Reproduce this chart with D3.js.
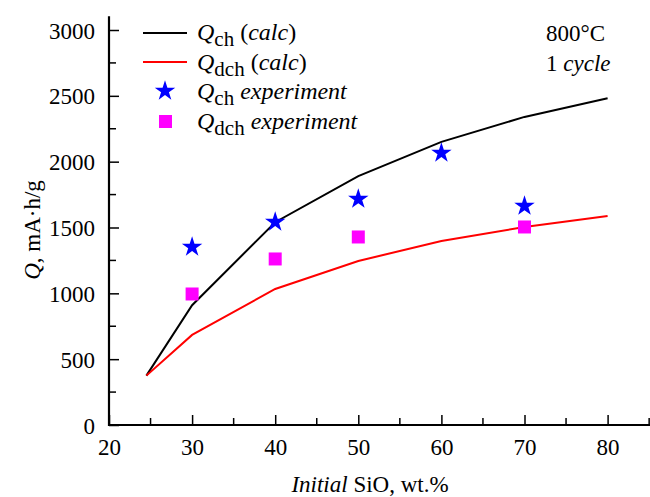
<!DOCTYPE html>
<html>
<head>
<meta charset="utf-8">
<script src="https://d3js.org/d3.v7.min.js"></script>
</head>
<body style="margin:0">
<svg id="chart" width="650" height="497"></svg>
<script>
// ---- data ----
var calcX = [24.5, 30, 40, 50, 60, 70, 80];
var qChCalc = [375, 910, 1540, 1890, 2150, 2340, 2482];
var qDchCalc = [375, 684, 1033, 1246, 1397, 1504, 1587];

var expChX = [30, 40, 50, 60, 70];
var qChExp = [1352, 1542, 1716, 2066, 1663];
var expDchX = [30, 40, 50, 70];
var qDchExp = [995, 1261, 1428, 1504];

var xTicks = [20, 30, 40, 50, 60, 70, 80];
var yTicks = [0, 500, 1000, 1500, 2000, 2500, 3000];

var FONT = "'Liberation Serif'";

// every text gets the serif face set on the element itself
function serif(sel, size) {
  return sel.attr("font-size", size).style("font-family", FONT);
}

// ---- layout ----
var svg = d3.select("#chart");
var left = 109, bottom = 425;

var x = d3.scaleLinear().domain([20, 85.5]).range([left, left + 65.5 * 8.31]);
var y = d3.scaleLinear().domain([0, 3000]).range([bottom, 30]);

// y axis (ticks point inward)
var yAxis = d3.axisLeft(y).tickValues(yTicks).tickSize(-10).tickPadding(14).tickFormat(d3.format("d"));
var gy = svg.append("g").attr("transform", "translate(" + left + ",0)").call(yAxis)
  .attr("font-family", null).attr("font-size", null);
gy.select(".domain").remove();
gy.selectAll(".tick line").attr("stroke-width", 1.5);
serif(gy.selectAll(".tick text"), 23).attr("dy", "0.35em");
// minor y ticks
gy.selectAll(".minor").data([250, 750, 1250, 1750, 2250, 2750]).enter().append("line")
  .attr("x1", 0).attr("x2", 7).attr("y1", function (d) { return y(d); }).attr("y2", function (d) { return y(d); })
  .attr("stroke", "#000").attr("stroke-width", 1.5);
svg.append("line").attr("x1", left).attr("x2", left).attr("y1", y(3105)).attr("y2", bottom + 1)
  .attr("stroke", "#000").attr("stroke-width", 2.2);

// x axis
var xAxis = d3.axisBottom(x).tickValues(xTicks).tickSize(-10).tickPadding(14).tickFormat(d3.format("d"));
var gx = svg.append("g").attr("transform", "translate(0," + bottom + ")").call(xAxis)
  .attr("font-family", null).attr("font-size", null);
gx.select(".domain").remove();
gx.selectAll(".tick line").attr("stroke-width", 1.5);
serif(gx.selectAll(".tick text"), 23);
gx.selectAll(".minor").data([25, 35, 45, 55, 65, 75, 85]).enter().append("line")
  .attr("x1", function (d) { return x(d); }).attr("x2", function (d) { return x(d); })
  .attr("y1", 0).attr("y2", -7).attr("stroke", "#000").attr("stroke-width", 1.5);
svg.append("line").attr("x1", left - 1).attr("x2", 650).attr("y1", bottom).attr("y2", bottom)
  .attr("stroke", "#000").attr("stroke-width", 2.2);

// axis titles
var xt = serif(svg.append("text"), 23).attr("x", 370).attr("y", 492).attr("text-anchor", "middle");
xt.append("tspan").attr("font-style", "italic").text("Initial");
xt.append("tspan").text(" SiO, wt.%");

var yt = serif(svg.append("text"), 23).attr("transform", "translate(40,230) rotate(-90)")
  .attr("text-anchor", "middle");
yt.append("tspan").attr("font-style", "italic").text("Q");
yt.append("tspan").text(", mA·h/g");

// calc lines
var line = d3.line().x(function (d) { return x(d[0]); }).y(function (d) { return y(d[1]); });
svg.append("path").datum(d3.zip(calcX, qChCalc)).attr("d", line)
  .attr("fill", "none").attr("stroke", "#000").attr("stroke-width", 2);
svg.append("path").datum(d3.zip(calcX, qDchCalc)).attr("d", line)
  .attr("fill", "none").attr("stroke", "#ff0000").attr("stroke-width", 2);

// experiment markers
var star = d3.symbol().type(d3.symbolStar).size(130);
svg.selectAll(".star").data(d3.zip(expChX, qChExp)).enter().append("path")
  .attr("class", "star")
  .attr("transform", function (d) { return "translate(" + x(d[0]) + "," + y(d[1]) + ")"; })
  .attr("d", star).attr("fill", "#0000ff");
svg.selectAll(".sq").data(d3.zip(expDchX, qDchExp)).enter().append("rect")
  .attr("class", "sq")
  .attr("x", function (d) { return x(d[0]) - 6.5; }).attr("y", function (d) { return y(d[1]) - 6.5; })
  .attr("width", 13).attr("height", 13).attr("fill", "#ff00ff");

// legend
var legend = svg.append("g");
var legLabels = [
  { sub: "ch", rest: " (", it: "calc", end: ")" },
  { sub: "dch", rest: " (", it: "calc", end: ")" },
  { sub: "ch", rest: " ", it: "experiment", end: "" },
  { sub: "dch", rest: " ", it: "experiment", end: "" }
];
legLabels.forEach(function (l, i) {
  var ty = 40 + i * 29.5;
  var t = serif(legend.append("text"), 24).attr("x", 197).attr("y", ty);
  t.append("tspan").attr("font-style", "italic").text("Q");
  t.append("tspan").attr("dy", 6).attr("font-size", 21).text(l.sub);
  t.append("tspan").attr("dy", -6).text(l.rest);
  t.append("tspan").attr("font-style", "italic").text(l.it);
  t.append("tspan").text(l.end);
});
legend.append("line").attr("x1", 143).attr("x2", 187).attr("y1", 33).attr("y2", 33)
  .attr("stroke", "#000").attr("stroke-width", 2);
legend.append("line").attr("x1", 143).attr("x2", 187).attr("y1", 62).attr("y2", 62)
  .attr("stroke", "#ff0000").attr("stroke-width", 2);
legend.append("path").attr("transform", "translate(165,91)").attr("d", star).attr("fill", "#0000ff");
legend.append("rect").attr("x", 159).attr("y", 115).attr("width", 13).attr("height", 13).attr("fill", "#ff00ff");

// annotation
serif(svg.append("text"), 23).attr("x", 546).attr("y", 41).text("800°C");
var cyc = serif(svg.append("text"), 23).attr("x", 546).attr("y", 71);
cyc.append("tspan").text("1 ");
cyc.append("tspan").attr("font-style", "italic").text("cycle");
</script>
</body>
</html>
